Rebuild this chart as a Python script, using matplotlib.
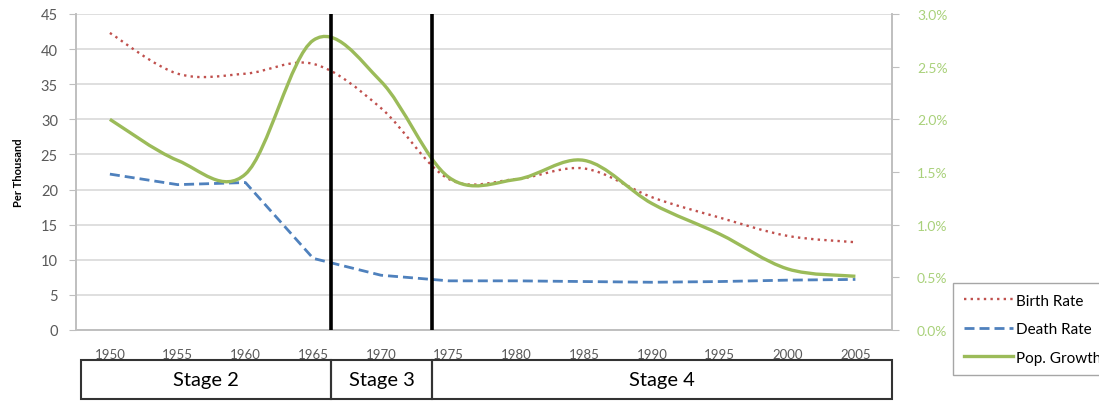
"""
Demographic transition: birth rate, death rate and population growth
"""

import numpy as np
import matplotlib.pyplot as plt
from matplotlib.path import Path
from matplotlib.patches import PathPatch, Rectangle
from matplotlib.lines import Line2D


# DATA

years = [1950, 1955, 1960, 1965, 1970, 1975, 1980, 1985, 1990, 1995, 2000, 2005]
birth_rate = [42.3, 36.5, 36.5, 37.9, 31.6, 21.5, 21.5, 23.0, 18.9, 16.0, 13.4, 12.5]
death_rate = [22.2, 20.7, 21.0, 10.2, 7.8, 7.0, 7.0, 6.9, 6.8, 6.9, 7.1, 7.2]
pop_growth = [2.00, 1.61, 1.48, 2.75, 2.36, 1.45, 1.43, 1.61, 1.20, 0.91, 0.58, 0.51]  # percent

stage_labels = ["Stage 2", "Stage 3", "Stage 4"]
stage_bounds = [1947.9, 1966.3, 1973.8, 2007.7]

left_ticks = list(range(0, 50, 5))
right_ticks = [0.0, 0.5, 1.0, 1.5, 2.0, 2.5, 3.0]

RED = "#C0504D"
BLUE = "#4F81BD"
GREEN = "#9BBB59"
GRID = "#D9D9D9"


def smooth_path(xs, ys):
    # excel style smoothed line (catmull-rom as cubic bezier)
    n = len(xs)
    verts = [(xs[0], ys[0])]
    codes = [Path.MOVETO]
    for i in range(n - 1):
        xp, yp = xs[max(i - 1, 0)], ys[max(i - 1, 0)]
        xn, yn = xs[min(i + 2, n - 1)], ys[min(i + 2, n - 1)]
        c1 = (xs[i] + (xs[i + 1] - xp) / 6, ys[i] + (ys[i + 1] - yp) / 6)
        c2 = (xs[i + 1] - (xn - xs[i]) / 6, ys[i + 1] - (yn - ys[i]) / 6)
        verts += [c1, c2, (xs[i + 1], ys[i + 1])]
        codes += [Path.CURVE4] * 3
    return Path(verts, codes)


# PROGRAM

plt.rcParams['font.family'] = ['Lato', 'DejaVu Sans']

fig = plt.figure(figsize=(10.99, 4.02), dpi=100)
W, H = 1099, 402
ax = fig.add_axes([76 / W, 1 - 331 / H, (892 - 76) / W, (331 - 15) / H])
ax2 = ax.twinx()

ax.set_xlim(1947.5, 2007.7)
ax.set_ylim(0, 45)
ax2.set_ylim(0, 3)

ax.add_patch(PathPatch(smooth_path(years, birth_rate), fill=False, edgecolor=RED,
                       lw=1.7, linestyle=(0, (1, 1.8)), zorder=3))
ax.plot(years, death_rate, color=BLUE, lw=2.0, linestyle=(0, (3.6, 1.8)), zorder=3)
ax2.add_patch(PathPatch(smooth_path(years, pop_growth), fill=False, edgecolor=GREEN,
                        lw=2.4, zorder=3))

for b in stage_bounds[1:-1]:
    ax2.axvline(b, color="black", lw=2.6, zorder=5)

ax.set_yticks(left_ticks)
ax.set_xticks(years)
ax.grid(axis='y', color=GRID, lw=1.2)
ax.set_axisbelow(True)
ax.tick_params(axis='y', length=5, color="#BFBFBF", labelsize=10.5, labelcolor="#595959", pad=8)
ax.tick_params(axis='x', length=0, labelsize=9.5, labelcolor="#595959", pad=13)
ax2.set_yticks(right_ticks)
ax2.set_yticklabels([f"{t:.1f}%" for t in right_ticks])
ax2.tick_params(axis='y', length=5, color="#BFBFBF", labelsize=10, labelcolor="#A9D17A", pad=13)

for a in (ax, ax2):
    a.spines['top'].set_visible(False)
    for s in ('left', 'right', 'bottom'):
        a.spines[s].set_color("#BFBFBF")
        a.spines[s].set_linewidth(1.2)

fig.text(19 / W, 1 - 173 / H, "Per Thousand", rotation=90, ha='center', va='center',
         fontsize=8, fontweight='bold', color="black")

# stage table
tab = fig.add_axes([76 / W, 1 - 400 / H, (892 - 76) / W, 39 / H])
tab.set_xlim(1947.5, 2007.7)
tab.set_ylim(0, 1)
tab.axis('off')
for i, label in enumerate(stage_labels):
    x0, x1 = stage_bounds[i], stage_bounds[i + 1]
    tab.add_patch(Rectangle((x0, 0), x1 - x0, 1, fill=False, edgecolor="#333333", lw=1.5, clip_on=False))
    tab.text((x0 + x1) / 2, 0.5, label, ha='center', va='center', fontsize=14.5, color="black")

handles = [
    Line2D([], [], color=RED, lw=1.7, linestyle=(0, (1, 1.8))),
    Line2D([], [], color=BLUE, lw=2.0, linestyle=(0, (3.6, 1.8))),
    Line2D([], [], color=GREEN, lw=2.4),
]
fig.legend(handles, ["Birth Rate", "Death Rate", "Pop. Growth"], loc='upper left',
           bbox_to_anchor=(953 / W, 1 - 284 / H), borderaxespad=0, fancybox=False,
           edgecolor="#A6A6A6", fontsize=11, handlelength=3.2, handletextpad=0.2,
           labelspacing=0.95, framealpha=1, borderpad=0.7)

fig.savefig("out.png", dpi=100)
